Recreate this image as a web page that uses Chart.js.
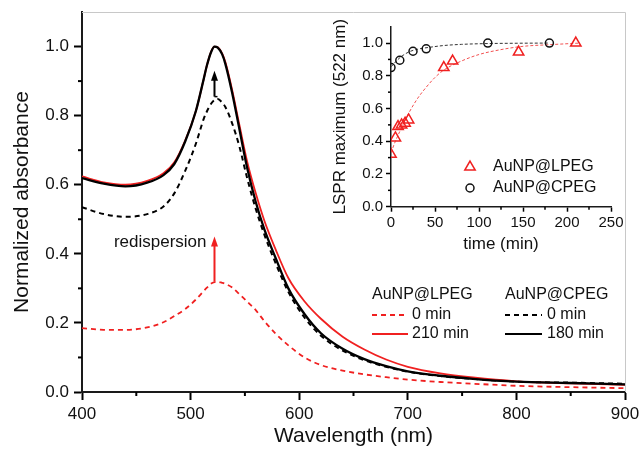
<!DOCTYPE html>
<html><head><meta charset="utf-8">
<script src="https://cdn.jsdelivr.net/npm/chart.js@4.4.0/dist/chart.umd.min.js"></script>
<style>
html,body{margin:0;padding:0;background:#fff;}
#wrap{position:relative;width:640px;height:449px;background:#fff;}
canvas{position:absolute;left:0;top:0;}
</style>
</head><body>
<div id="wrap"><canvas id="main" width="640" height="449"></canvas><canvas id="inset" width="640" height="449"></canvas></div>
<script>
// ---------- main chart data ----------
const wavelengths = [400,420,440,460,475,485,495,505,512,515,519,522,525,529,532,538,545,552,560,568,578,590,605,620,640,660,680,700,730,760,800,850,900];
const lpeg0   = [0.185,0.180,0.180,0.187,0.202,0.220,0.240,0.268,0.292,0.302,0.314,0.318,0.319,0.316,0.313,0.303,0.283,0.262,0.237,0.205,0.170,0.135,0.100,0.078,0.062,0.051,0.043,0.036,0.029,0.024,0.018,0.014,0.011];
const lpeg210 = [0.624,0.607,0.600,0.611,0.633,0.665,0.728,0.815,0.905,0.945,0.986,1.000,0.998,0.980,0.955,0.878,0.772,0.668,0.575,0.495,0.415,0.330,0.262,0.212,0.160,0.123,0.094,0.073,0.054,0.042,0.031,0.025,0.021];
const cpeg0   = [0.535,0.515,0.507,0.515,0.537,0.575,0.640,0.720,0.790,0.812,0.835,0.845,0.848,0.838,0.825,0.780,0.710,0.620,0.530,0.455,0.375,0.290,0.215,0.163,0.120,0.092,0.073,0.059,0.046,0.038,0.030,0.027,0.024];
const cpeg180 = [0.619,0.603,0.595,0.606,0.628,0.660,0.725,0.815,0.905,0.945,0.985,1.000,0.997,0.978,0.950,0.870,0.760,0.650,0.550,0.470,0.390,0.300,0.225,0.170,0.125,0.095,0.075,0.060,0.047,0.038,0.030,0.026,0.022];
const mainXMinor = [450,550,650,750,850];
const mainYMinor = [0.1,0.3,0.5,0.7,0.9];

// ---------- inset data ----------
const lpegTimes = [0,5,8,12,16,20,60,70,145,210];
const lpegMax   = [0.32,0.42,0.49,0.50,0.51,0.53,0.85,0.89,0.945,1.0];
const cpegTimes = [0,10,25,40,110,180];
const cpegMax   = [0.85,0.895,0.95,0.965,1.0,1.0];
const lpegFitTimes  = [0,5,10,20,30,40,50,60,80,100,125,150,180,215];
const lpegFitValues = [0.33,0.40,0.46,0.57,0.66,0.73,0.79,0.835,0.89,0.93,0.96,0.98,0.99,1.0];
const cpegFitTimes  = [0,10,20,30,45,60,80,110,145,180];
const cpegFitValues = [0.855,0.91,0.945,0.962,0.975,0.985,0.992,0.997,0.999,1.0];
const insetXMinor = [25,75,125,175,225];
const insetYMinor = [0.1,0.3,0.5,0.7,0.9];

const RED = '#f02020';
const FONT = "'Liberation Sans', Arial, sans-serif";

function pts(xs, ys){ return xs.map((x,i)=>({x:x, y:ys[i]})); }

function drawMinor(chart, id, values, len, width){
  const s = chart.scales[id]; const ctx = chart.ctx;
  ctx.save(); ctx.strokeStyle = '#000'; ctx.lineWidth = width;
  values.forEach(v=>{
    const p = s.getPixelForValue(v);
    ctx.beginPath();
    if (s.isHorizontal()) { ctx.moveTo(p, s.top); ctx.lineTo(p, s.top + len); }
    else { ctx.moveTo(s.right, p); ctx.lineTo(s.right - len, p); }
    ctx.stroke();
  });
  ctx.restore();
}

function arrow(ctx, x, y0, y1, color, hw, hl){
  ctx.save(); ctx.strokeStyle = color; ctx.fillStyle = color; ctx.lineWidth = 2;
  ctx.beginPath(); ctx.moveTo(x, y0); ctx.lineTo(x, y1 + hl - 1); ctx.stroke();
  ctx.beginPath(); ctx.moveTo(x, y1); ctx.lineTo(x - hw, y1 + hl); ctx.lineTo(x + hw, y1 + hl); ctx.closePath(); ctx.fill();
  ctx.restore();
}

const mainPlugin = {
  id: 'mainDeco',
  afterDraw(chart){
    const ctx = chart.ctx, a = chart.chartArea;
    const xs = chart.scales.x, ys = chart.scales.y;
    ctx.save(); ctx.strokeStyle = '#c8c8c8'; ctx.lineWidth = 1;
    ctx.beginPath(); ctx.moveTo(a.left, a.top + 0.5); ctx.lineTo(a.right + 0.5, a.top + 0.5); ctx.lineTo(a.right + 0.5, a.bottom); ctx.stroke();
    ctx.restore();
    drawMinor(chart, 'x', mainXMinor, 4, 2);
    drawMinor(chart, 'y', mainYMinor, 4, 2);
    const px = xs.getPixelForValue(522);
    arrow(ctx, px, ys.getPixelForValue(0.855), ys.getPixelForValue(0.93), '#000', 3.5, 10);
    ctx.save(); ctx.strokeStyle = '#000'; ctx.lineWidth = 1.5;
    ctx.beginPath(); ctx.moveTo(px, ys.getPixelForValue(0.855)); ctx.lineTo(px + 3, ys.getPixelForValue(0.855)); ctx.stroke(); ctx.restore();
    arrow(ctx, px, ys.getPixelForValue(0.32), ys.getPixelForValue(0.45), RED, 3.5, 10);
    ctx.save(); ctx.fillStyle = '#111'; ctx.font = '17px ' + FONT; ctx.textAlign = 'right'; ctx.textBaseline = 'middle';
    ctx.fillText('redispersion', px - 8, ys.getPixelForValue(0.432));
    ctx.restore();
    ctx.save(); ctx.font = '16px ' + FONT; ctx.fillStyle = '#111'; ctx.textBaseline = 'middle'; ctx.textAlign = 'left';
    ctx.fillText('AuNP@LPEG', 372, 295);
    ctx.fillText('AuNP@CPEG', 505, 295);
    ctx.fillText('0 min', 412, 315);
    ctx.fillText('210 min', 412, 334);
    ctx.fillText('0 min', 547, 315);
    ctx.fillText('180 min', 547, 334);
    const seg = (x0, x1, y, color, dash, w) => { ctx.save(); ctx.strokeStyle = color; ctx.lineWidth = w; ctx.setLineDash(dash); ctx.beginPath(); ctx.moveTo(x0, y); ctx.lineTo(x1, y); ctx.stroke(); ctx.restore(); };
    seg(372, 408, 315, RED, [5,4], 1.8);
    seg(372, 408, 334, RED, [], 1.8);
    seg(505, 542, 315, '#000', [5,4], 2);
    seg(505, 542, 334, '#000', [], 2.2);
    ctx.restore();
  }
};

const axisCommon = {
  grid: {drawOnChartArea: false, drawTicks: true, tickLength: 8, tickWidth: 2, color: '#000'},
  border: {display: true, color: '#1a1a1a', width: 2}
};

new Chart(document.getElementById('main'), {
  type: 'line',
  data: {
    datasets: [
      {label: 'AuNP@CPEG 180 min', data: pts(wavelengths, cpeg180), borderColor: '#000', borderWidth: 2.3, order: 0},
      {label: 'AuNP@LPEG 210 min', data: pts(wavelengths, lpeg210), borderColor: RED, borderWidth: 1.8, order: 1},
      {label: 'AuNP@CPEG 0 min', data: pts(wavelengths, cpeg0), borderColor: '#000', borderWidth: 2, borderDash: [5,4], order: 2},
      {label: 'AuNP@LPEG 0 min', data: pts(wavelengths, lpeg0), borderColor: RED, borderWidth: 1.8, borderDash: [5,4], order: 3}
    ]
  },
  options: {
    responsive: false, animation: false, devicePixelRatio: 1,
    layout: {padding: {left: 0, top: 12, right: 15, bottom: 0}},
    elements: {point: {radius: 0}, line: {cubicInterpolationMode: 'monotone', fill: false}},
    plugins: {legend: {display: false}, tooltip: {enabled: false}},
    scales: {
      x: Object.assign({}, axisCommon, {
        type: 'linear', min: 400, max: 900,
        ticks: {stepSize: 100, padding: 4, color: '#111', font: {family: FONT, size: 17}},
        title: {display: true, text: 'Wavelength (nm)', color: '#111', font: {family: FONT, size: 21}, padding: {top: 0, bottom: 0}},
        afterFit(s){ s.height = 57; s.paddingRight = 0; s.paddingLeft = 0; }
      }),
      y: Object.assign({}, axisCommon, {
        type: 'linear', min: 0, max: 1.1,
        ticks: {stepSize: 0.2, includeBounds: false, padding: 5, color: '#111', font: {family: FONT, size: 17}, callback: v => v.toFixed(1)},
        title: {display: true, text: 'Normalized absorbance', color: '#111', font: {family: FONT, size: 21}, padding: {top: 10, bottom: 0}},
        afterFit(s){ s.width = 82; s.paddingTop = 0; s.paddingBottom = 0; }
      })
    }
  },
  plugins: [mainPlugin]
});

// ---------- inset ----------
const insetPlugin = {
  id: 'insetDeco',
  afterDraw(chart){
    const ctx = chart.ctx;
    drawMinor(chart, 'x', insetXMinor, 3, 1.5);
    drawMinor(chart, 'y', insetYMinor, 3, 1.5);
    ctx.save();
    ctx.strokeStyle = RED; ctx.lineWidth = 1.5;
    const r = 6, cx = 470, cy = 167;
    ctx.beginPath();
    for (let k = 0; k < 3; k++) { const ang = k * 2 * Math.PI / 3; const xx = cx + Math.sin(ang) * r, yy = cy - Math.cos(ang) * r; if (k === 0) ctx.moveTo(xx, yy); else ctx.lineTo(xx, yy); }
    ctx.closePath(); ctx.stroke();
    ctx.strokeStyle = '#111';
    ctx.beginPath(); ctx.arc(470, 188, 4, 0, Math.PI * 2); ctx.stroke();
    ctx.fillStyle = '#111'; ctx.font = '16px ' + FONT; ctx.textBaseline = 'middle';
    ctx.fillText('AuNP@LPEG', 493, 167);
    ctx.fillText('AuNP@CPEG', 493, 188);
    ctx.restore();
  }
};

const insetAxis = {
  grid: {drawOnChartArea: false, drawTicks: true, tickLength: 5, tickWidth: 1.5, color: '#000'},
  border: {display: true, color: '#1a1a1a', width: 1.5}
};

new Chart(document.getElementById('inset'), {
  type: 'line',
  data: {
    datasets: [
      {data: pts(lpegTimes, lpegMax), showLine: false, pointStyle: 'triangle', pointRadius: 6, pointBorderColor: RED, pointBackgroundColor: 'rgba(0,0,0,0)', pointBorderWidth: 1.5, order: 0},
      {data: pts(cpegTimes, cpegMax), showLine: false, pointStyle: 'circle', pointRadius: 4, pointBorderColor: '#111', pointBackgroundColor: 'rgba(0,0,0,0)', pointBorderWidth: 1.5, order: 1},
      {data: pts(lpegFitTimes, lpegFitValues), borderColor: 'rgba(240,50,50,0.85)', borderWidth: 1, borderDash: [3,2], pointRadius: 0, order: 2},
      {data: pts(cpegFitTimes, cpegFitValues), borderColor: '#333', borderWidth: 1, borderDash: [3,2], pointRadius: 0, order: 3}
    ]
  },
  options: {
    responsive: false, animation: false, devicePixelRatio: 1,
    layout: {padding: {left: 330, top: 26.7, right: 29, bottom: 194.3}},
    elements: {line: {cubicInterpolationMode: 'monotone', fill: false}},
    plugins: {legend: {display: false}, tooltip: {enabled: false}},
    scales: {
      x: Object.assign({}, insetAxis, {
        type: 'linear', min: 0, max: 250,
        ticks: {stepSize: 50, padding: 2, color: '#111', font: {family: FONT, size: 15}},
        title: {display: true, text: 'time (min)', color: '#111', font: {family: FONT, size: 17}, padding: {top: 0, bottom: 0}},
        afterFit(s){ s.height = 48; s.paddingRight = 0; s.paddingLeft = 0; }
      }),
      y: Object.assign({}, insetAxis, {
        type: 'linear', min: 0, max: 1.1,
        ticks: {stepSize: 0.2, includeBounds: false, padding: 3, color: '#111', font: {family: FONT, size: 15}, callback: v => v.toFixed(1)},
        title: {display: true, text: 'LSPR maximum (522 nm)', color: '#111', font: {family: FONT, size: 17}, padding: {top: 0, bottom: 0}},
        afterFit(s){ s.width = 61; s.paddingTop = 0; s.paddingBottom = 0; }
      })
    }
  },
  plugins: [insetPlugin]
});
</script>
</body></html>
